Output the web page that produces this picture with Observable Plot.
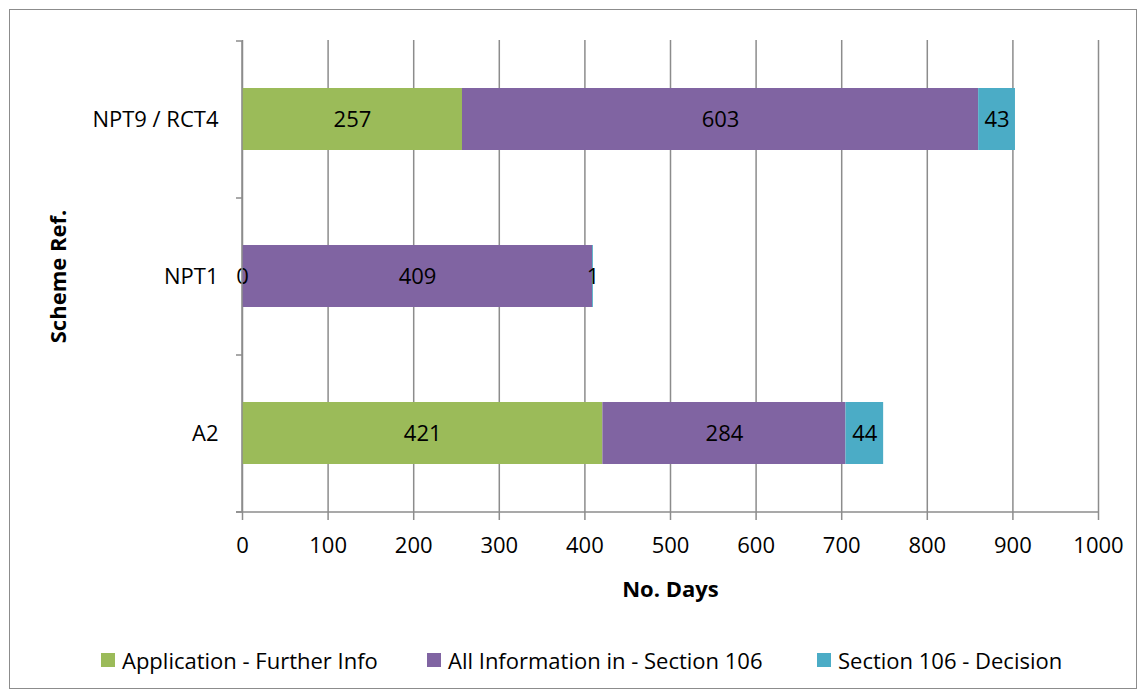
<!DOCTYPE html>
<html>
<head>
<meta charset="utf-8">
<script src="https://cdn.jsdelivr.net/npm/d3@7"></script>
<script src="https://cdn.jsdelivr.net/npm/@observablehq/plot@0.6"></script>
<style>
  body { margin: 0; background: #fff; font-family: "Open Sans", sans-serif; }
  #frame { position: absolute; left: 9px; top: 9px; width: 1128px; height: 680px; border: 1.5px solid #8c8c8c; box-sizing: border-box; }
  #chart { position: absolute; left: 0; top: 0; }
  #legend { position: absolute; left: 0; top: 645px; width: 1142px; height: 30px; font-size: 22px; color: #000; }
  .item { position: absolute; top: 0; display: flex; align-items: center; height: 30px; }
  .sw { width: 14px; height: 14px; margin-right: 7px; }
  g[aria-label="x-axis label"] text, g[aria-label="y-axis label"] text { font-weight: bold; }
</style>
</head>
<body>
<div id="chart"></div>
<div id="frame"></div>
<div id="legend"></div>
<script>
// Schemes, stages and days spent in each stage
const schemes = ["NPT9 / RCT4", "NPT1", "A2"];
const stages = ["Application - Further Info", "All Information in - Section 106", "Section 106 - Decision"];
const stageColors = ["#9BBB59", "#8064A2", "#4BACC6"];
const furtherInfoDays = [257, 0, 421];
const section106Days = [603, 409, 284];
const decisionDays = [43, 1, 44];
const xTicks = [0, 100, 200, 300, 400, 500, 600, 700, 800, 900, 1000];

const rows = [];
schemes.forEach((s, i) => {
  rows.push({ scheme: s, stage: stages[0], days: furtherInfoDays[i] });
  rows.push({ scheme: s, stage: stages[1], days: section106Days[i] });
  rows.push({ scheme: s, stage: stages[2], days: decisionDays[i] });
});

const W = 1142, H = 620;
const chart = Plot.plot({
  width: W,
  height: H,
  marginLeft: 242,
  marginRight: 44,
  marginTop: 40,
  marginBottom: 108,
  style: { fontFamily: "'Open Sans', sans-serif", fontSize: "22px", color: "#000", background: "transparent" },
  x: { domain: [0, 1000], ticks: xTicks },
  y: { domain: schemes, padding: 0 },
  color: { domain: stages, range: stageColors },
  marks: [
    Plot.gridX(xTicks, { stroke: "#8c8c8c", strokeOpacity: 1, strokeWidth: 1.5 }),
    Plot.barX(rows, Plot.stackX({ y: "scheme", x: "days", fill: "stage", insetTop: 47, insetBottom: 48 })),
    Plot.text(rows, Plot.stackX({ y: "scheme", x: "days", text: d => String(d.days), fill: "#000", fontSize: 22 })),
    Plot.axisX({ ticks: xTicks, tickFormat: "d", tickSize: 8, tickPadding: 17, stroke: "#8c8c8c", strokeWidth: 1.5, fontSize: 22, label: "No. Days", labelAnchor: "center", labelArrow: "none", labelOffset: 84 }),
    Plot.axisY({ tickSize: 0, tickPadding: 24, fontSize: 22, label: "Scheme Ref.", labelAnchor: "center", labelArrow: "none", labelOffset: 192 })
  ]
});
document.getElementById("chart").appendChild(chart);

// Axis lines and category boundary ticks drawn from the plot's own scales
const xs = chart.scale("x"), ys = chart.scale("y");
const svg = d3.select(chart);
const xStart = xs.apply(0), xEnd = xs.apply(1000);
const step = ys.step;
const firstBand = ys.apply(schemes[0]);
const bounds = d3.range(schemes.length + 1).map(i => firstBand + i * step);
const g = svg.append("g").attr("stroke", "#8c8c8c").attr("stroke-width", 1.5);
g.append("line").attr("x1", xStart).attr("x2", xStart).attr("y1", bounds[0]).attr("y2", bounds[bounds.length - 1]);
g.append("line").attr("x1", xStart - 6).attr("x2", xEnd).attr("y1", bounds[bounds.length - 1]).attr("y2", bounds[bounds.length - 1]);
bounds.forEach(b => g.append("line").attr("x1", xStart - 6).attr("x2", xStart).attr("y1", b).attr("y2", b));

// Legend
const legendPos = [101, 427, 817];
const legend = d3.select("#legend");
stages.forEach((s, i) => {
  const it = legend.append("div").attr("class", "item").style("left", legendPos[i] + "px");
  it.append("div").attr("class", "sw").style("background", stageColors[i]);
  it.append("span").text(s);
});
</script>
</body>
</html>
